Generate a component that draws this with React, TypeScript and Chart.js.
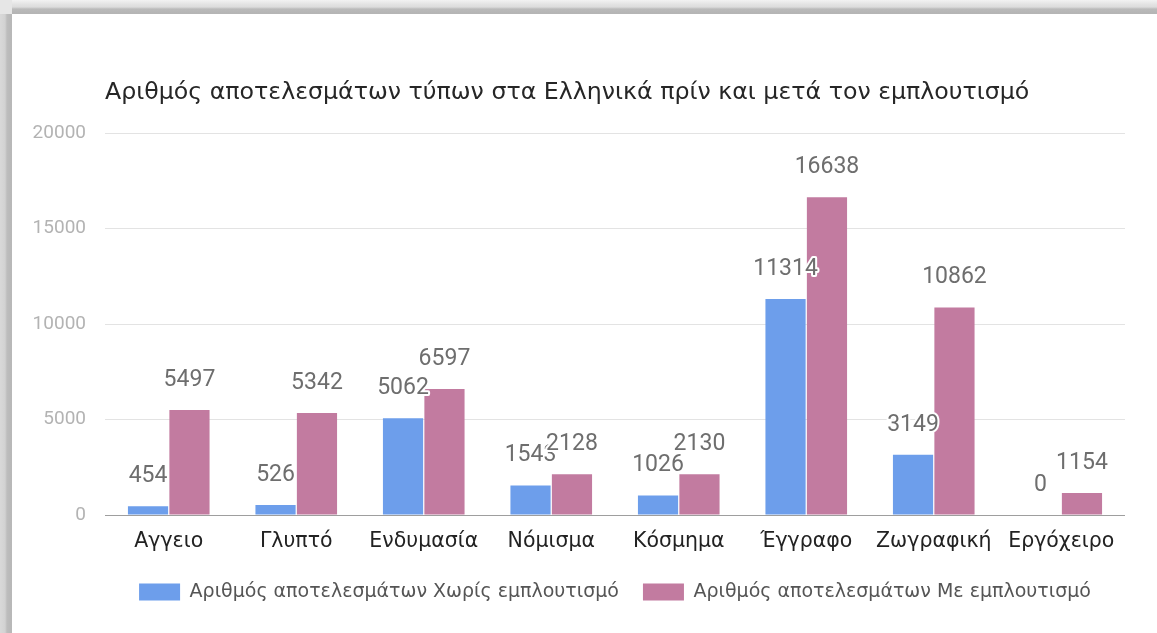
import React, { useEffect, useRef } from "react";
import { Chart, registerables } from "chart.js";

Chart.register(...registerables);

const TITLE = "Αριθμός αποτελεσμάτων τύπων στα Ελληνικά πρίν και μετά τον εμπλουτισμό";
const categories = ["Αγγειο", "Γλυπτό", "Ενδυμασία", "Νόμισμα", "Κόσμημα", "Έγγραφο", "Ζωγραφική", "Εργόχειρο"];
const seriesNames = ["Αριθμός αποτελεσμάτων Χωρίς εμπλουτισμό", "Αριθμός αποτελεσμάτων Με εμπλουτισμό"];
const withoutEnrichment = [454, 526, 5062, 1543, 1026, 11314, 3149, 0];
const withEnrichment = [5497, 5342, 6597, 2128, 2130, 16638, 10862, 1154];
const yTicks = [0, 5000, 10000, 15000, 20000];
const colors = ["#6d9eeb", "#c27ba0"];

const valueLabels = {
  id: "valueLabels",
  afterDatasetsDraw(chart: any) {
    const ctx = chart.ctx;
    ctx.save();
    ctx.font = "23px Roboto";
    ctx.textAlign = "center";
    ctx.textBaseline = "middle";
    ctx.lineJoin = "round";
    chart.data.datasets.forEach((ds: any, di: number) => {
      const meta = chart.getDatasetMeta(di);
      meta.data.forEach((bar: any, i: number) => {
        const txt = String(ds.data[i]);
        const x = bar.x;
        const y = bar.y - 30;
        ctx.strokeStyle = "#ffffff";
        ctx.lineWidth = 4;
        ctx.strokeText(txt, x, y);
        ctx.fillStyle = "#6e6e6e";
        ctx.fillText(txt, x, y);
      });
    });
    ctx.restore();
  },
};

export default function App() {
  const ref = useRef<HTMLCanvasElement>(null);
  useEffect(() => {
    if (!ref.current) return;
    const chart = new Chart(ref.current, {
      type: "bar",
      data: {
        labels: categories,
        datasets: [
          { label: seriesNames[0], data: withoutEnrichment, backgroundColor: colors[0], borderWidth: 0 },
          { label: seriesNames[1], data: withEnrichment, backgroundColor: colors[1], borderWidth: 0 },
        ],
      },
      options: {
        responsive: false,
        animation: false,
        layout: { padding: { top: 64.8, left: 0, right: 32, bottom: 21.5 } },
        datasets: { bar: { categoryPercentage: 0.65, barPercentage: 0.97 } },
        plugins: {
          title: {
            display: true,
            text: TITLE,
            align: "start",
            fullSize: false,
            color: "#262626",
            font: { family: "'DejaVu Sans'", size: 23.7, weight: "normal" },
            padding: { top: 0, bottom: 25.8 },
          },
          legend: {
            position: "bottom",
            align: "center",
            fullSize: false,
            labels: {
              boxWidth: 41,
              boxHeight: 17,
              padding: 24,
              color: "#555555",
              font: { family: "'DejaVu Sans'", size: 19 },
            },
          },
          tooltip: { enabled: false },
        },
        scales: {
          x: {
            grid: { display: false, drawTicks: false },
            border: { display: false },
            ticks: { color: "#222222", padding: 14, font: { family: "'DejaVu Sans'", size: 20.5 } },
            afterFit: (s: any) => { s.height = 43.5; },
          },
          y: {
            min: 0,
            max: 20000,
            afterBuildTicks: (s: any) => { s.ticks = yTicks.map((v) => ({ value: v })); },
            grid: {
              drawTicks: false,
              color: (c: any) => (c.tick && c.tick.value === 0 ? "#9e9e9e" : "#e3e3e3"),
              lineWidth: 1,
            },
            border: { display: false },
            ticks: {
              color: "#b3b3b3",
              padding: 19,
              font: { family: "Roboto", size: 19 },
              callback: (v: any) => String(v),
            },
            afterFit: (s: any) => { s.width = 93; },
          },
        },
      },
      plugins: [valueLabels],
    });
    return () => chart.destroy();
  }, []);

  return (
    <div style={{ position: "fixed", left: 0, top: 0, width: 1157, height: 633, background: "#ffffff", overflow: "hidden" }}>
      <div style={{ position: "absolute", left: 0, top: 0, width: 1157, height: 14, background: "linear-gradient(to bottom, #f2f2f2 0px, #e4e4e4 4px, #dcdcdc 7px, #bababa 9px, #b5b5b5 13px)" }} />
      <div style={{ position: "absolute", left: 0, top: 14, width: 12, height: 619, background: "linear-gradient(to right, #d9d9d9 0px, #d2d2d2 5px, #bdbdbd 7px, #b8b8b8 11px)" }} />
      <div style={{ position: "absolute", left: 0, top: 0, width: 12, height: 14, background: "#e6e6e6" }} />
      <div style={{ position: "absolute", left: 12, top: 14, width: 1145, height: 619, background: "#ffffff" }}>
        <canvas ref={ref} width={1145} height={619} style={{ display: "block" }} />
      </div>
    </div>
  );
}
